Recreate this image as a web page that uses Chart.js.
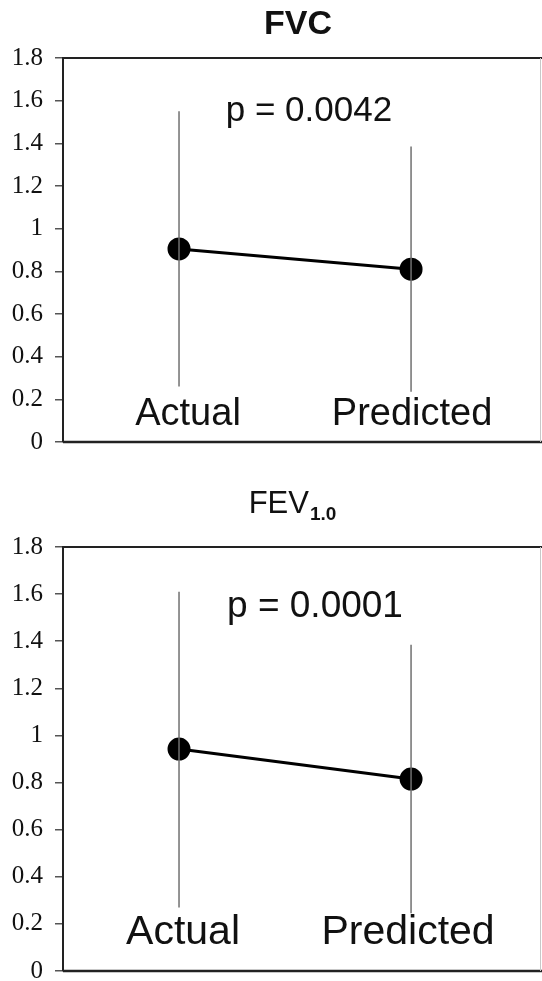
<!DOCTYPE html>
<html>
<head>
<meta charset="utf-8">
<script src="https://cdn.jsdelivr.net/npm/chart.js@4.4.1/dist/chart.umd.min.js"></script>
<style>
  html, body { margin: 0; padding: 0; background: #fff; overflow: hidden; width: 542px; height: 981px; }
  .box { position: absolute; left: 0; width: 542px; }
  #box1 { top: 0; height: 470px; }
  #box2 { top: 470px; height: 530px; }
  canvas { display: block; }
</style>
</head>
<body>
<div class="box" id="box1"><canvas id="fvc" width="542" height="470"></canvas></div>
<div class="box" id="box2"><canvas id="fev" width="542" height="530"></canvas></div>
<script>
// ========================
// Données
// ========================

const categories = ['Actual', 'Predicted'];
const catIndex = [0, 1];

// FVC
const fvcMean = [0.905, 0.81];
const fvcUpper = [1.55, 1.385];
const fvcLower = [0.26, 0.235];

// FEV1.0
const fevMean = [0.942, 0.815];
const fevUpper = [1.61, 1.385];
const fevLower = [0.27, 0.245];

const yMin = 0;
const yMax = 1.8;
const yStep = 0.2;

// ========================
// Plugin : cadre, titres, textes
// ========================

const overlay = {
  id: 'overlay',
  beforeDatasetsDraw(chart, args, o) {
    const { ctx, chartArea: a } = chart;
    ctx.save();
    ctx.strokeStyle = '#222';
    ctx.lineWidth = 2;
    ctx.beginPath();
    ctx.moveTo(a.left, a.top);
    ctx.lineTo(chart.width, a.top);
    ctx.stroke();
    ctx.lineWidth = 2.5;
    ctx.beginPath();
    ctx.moveTo(a.left, a.bottom);
    ctx.lineTo(chart.width, a.bottom);
    ctx.stroke();
    // bord droit très pâle
    ctx.strokeStyle = '#c8c8c8';
    ctx.lineWidth = 1;
    ctx.beginPath();
    ctx.moveTo(a.right - 0.5, a.top);
    ctx.lineTo(a.right - 0.5, a.bottom);
    ctx.stroke();
    ctx.restore();
  },
  afterDraw(chart, args, o) {
    const { ctx } = chart;
    const xs = chart.scales.x;
    const ys = chart.scales.y;
    ctx.save();
    ctx.fillStyle = '#111';
    ctx.textBaseline = 'alphabetic';

    // titre (+ indice éventuel)
    ctx.font = o.titleFont;
    const wMain = ctx.measureText(o.title).width;
    let wSub = 0;
    if (o.sub) {
      ctx.font = o.subFont;
      wSub = ctx.measureText(o.sub).width;
    }
    const x0 = o.titleX - (wMain + wSub) / 2;
    ctx.textAlign = 'left';
    ctx.font = o.titleFont;
    ctx.fillText(o.title, x0, o.titleY);
    if (o.sub) {
      ctx.font = o.subFont;
      ctx.fillText(o.sub, x0 + wMain + 1, o.titleY + 7);
    }

    // valeur p
    ctx.textAlign = 'center';
    ctx.textBaseline = 'middle';
    ctx.font = o.pFont;
    ctx.fillText(o.pText, xs.getPixelForValue(o.pX), ys.getPixelForValue(o.pY));

    // étiquettes des catégories dans la zone du graphique
    ctx.textBaseline = 'alphabetic';
    ctx.font = o.labelFont;
    categories.forEach((c, i) => {
      ctx.fillText(c, xs.getPixelForValue(catIndex[i]) + o.labelDx[i], ys.getPixelForValue(o.labelY));
    });
    ctx.restore();
  }
};

// ========================
// Construction d'un graphique
// ========================

function makeChart(id, mean, upper, lower, padTop, padBottom, opts) {
  const errSets = catIndex.map(i => ({
    data: [{ x: i, y: lower[i] }, { x: i, y: upper[i] }],
    borderColor: '#707070',
    borderWidth: 1.5,
    pointRadius: 0,
    fill: false
  }));

  return new Chart(document.getElementById(id), {
    type: 'line',
    data: {
      datasets: [
        ...errSets,
        {
          data: catIndex.map(i => ({ x: i, y: mean[i] })),
          borderColor: '#000',
          borderWidth: 3,
          pointRadius: 10,
          pointBackgroundColor: '#000',
          pointBorderColor: '#000',
          fill: false
        }
      ]
    },
    options: {
      responsive: false,
      animation: false,
      events: [],
      layout: { autoPadding: false, padding: { top: padTop, bottom: padBottom, left: 0, right: 1 } },
      scales: {
        x: { type: 'linear', display: false, min: -0.5, max: 1.56, ticks: { display: false } },
        y: {
          min: yMin,
          max: yMax,
          afterFit(scale) { scale.width = 63; },
          border: { display: true, color: '#222', width: 2 },
          grid: { drawOnChartArea: false, drawTicks: true, tickLength: 8, color: '#555', lineWidth: 1.5 },
          ticks: {
            stepSize: yStep,
            padding: 12,
            color: '#111',
            font: { family: '"Liberation Serif", "Times New Roman", serif', size: 25 },
            callback: v => String(Math.round(v * 10) / 10)
          }
        }
      },
      plugins: {
        legend: { display: false },
        tooltip: { enabled: false },
        overlay: opts
      }
    },
    plugins: [overlay]
  });
}

makeChart('fvc', fvcMean, fvcUpper, fvcLower, 58, 28, {
  title: 'FVC',
  sub: '',
  titleFont: 'bold 34px "Liberation Sans", Arial, sans-serif',
  subFont: 'bold 19px "Liberation Sans", Arial, sans-serif',
  titleX: 298,
  titleY: 34,
  pText: 'p = 0.0042',
  pFont: '35px "Liberation Sans", Arial, sans-serif',
  pX: 0.56,
  pY: 1.55,
  labelFont: '38px "Liberation Sans", Arial, sans-serif',
  labelY: 0.08,
  labelDx: [9, 1]
});

makeChart('fev', fevMean, fevUpper, fevLower, 77, 29, {
  title: 'FEV',
  sub: '1.0',
  titleFont: '31px "Liberation Sans", Arial, sans-serif',
  subFont: 'bold 19px "Liberation Sans", Arial, sans-serif',
  titleX: 292,
  titleY: 43,
  pText: 'p = 0.0001',
  pFont: '37px "Liberation Sans", Arial, sans-serif',
  pX: 0.586,
  pY: 1.545,
  labelFont: '41px "Liberation Sans", Arial, sans-serif',
  labelY: 0.115,
  labelDx: [4, -3]
});
</script>
</body>
</html>
